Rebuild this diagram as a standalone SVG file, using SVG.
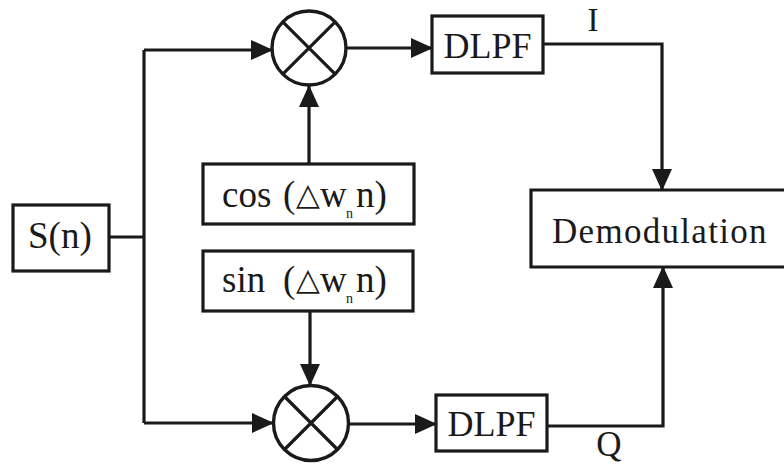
<svg xmlns="http://www.w3.org/2000/svg" width="784" height="464" viewBox="0 0 784 464">
  <style>
    .box { fill: #ffffff; stroke: #1a1a1a; stroke-width: 3.2; }
    .mix { fill: #ffffff; stroke: #1a1a1a; stroke-width: 3.4; }
    .wire { fill: none; stroke: #1a1a1a; stroke-width: 3.2; }
    .lbl { font-family: "Liberation Serif", "Tinos", "Times New Roman", "DejaVu Serif", serif; fill: #1a1a1a; }
    .tri { font-family: "DejaVu Sans", sans-serif; }
  </style>
  <defs>
    <marker id="arrow" markerUnits="userSpaceOnUse" markerWidth="22" markerHeight="20" refX="21" refY="10" orient="auto">
      <path d="M0,0 L22,10 L0,20 z" fill="#1a1a1a"/>
    </marker>
  </defs>

  <rect width="784" height="464" fill="#ffffff"/>

  <!-- signal connections -->
  <g id="connectors">
    <polyline class="wire" points="109,237 144,237"/>
    <polyline class="wire" points="144,423 144,50"/>
    <polyline class="wire" points="144,50 272,50" marker-end="url(#arrow)"/>
    <polyline class="wire" points="144,423 273,423" marker-end="url(#arrow)"/>
    <polyline class="wire" points="309,164 309,86" marker-end="url(#arrow)"/>
    <polyline class="wire" points="310,311 310,385" marker-end="url(#arrow)"/>
    <polyline class="wire" points="347,48 432,48" marker-end="url(#arrow)"/>
    <polyline class="wire" points="349,424 436,424" marker-end="url(#arrow)"/>
    <polyline class="wire" points="543,44 662,44 662,190" marker-end="url(#arrow)"/>
    <polyline class="wire" points="547,426 663,426 663,267" marker-end="url(#arrow)"/>
  </g>

  <g id="input">
    <rect class="box" x="13" y="205" width="96" height="66"/>
    <text class="lbl" x="28" y="248" font-size="37">S(n)</text>
  </g>

  <g id="mixer-i">
    <circle class="mix" cx="309" cy="48" r="37"/>
    <path class="wire" d="M282.8,21.8 L335.2,74.2 M335.2,21.8 L282.8,74.2"/>
  </g>

  <g id="mixer-q">
    <circle class="mix" cx="311" cy="423" r="37.5"/>
    <path class="wire" d="M284.5,396.5 L337.5,449.5 M337.5,396.5 L284.5,449.5"/>
  </g>

  <g id="osc-cos">
    <rect class="box" x="203" y="164" width="211" height="60"/>
    <text class="lbl" font-size="37" y="207"><tspan x="222">cos</tspan><tspan x="283">(</tspan><tspan class="tri" x="296" y="205" font-size="31">△</tspan><tspan x="320" y="207">w</tspan><tspan x="346" y="218" font-size="14">n</tspan><tspan x="356" y="207">n)</tspan></text>
  </g>

  <g id="osc-sin">
    <rect class="box" x="203" y="251" width="210" height="60"/>
    <text class="lbl" font-size="37" y="292"><tspan x="222">sin</tspan><tspan x="283">(</tspan><tspan class="tri" x="296" y="290" font-size="31">△</tspan><tspan x="320" y="292">w</tspan><tspan x="346" y="303" font-size="14">n</tspan><tspan x="356" y="292">n)</tspan></text>
  </g>

  <g id="lpf-i">
    <rect class="box" x="432" y="16" width="111" height="57"/>
    <text class="lbl" x="487.5" y="58" font-size="36" text-anchor="middle">DLPF</text>
  </g>

  <g id="lpf-q">
    <rect class="box" x="436" y="395" width="111" height="56"/>
    <text class="lbl" x="491.5" y="436" font-size="36" text-anchor="middle">DLPF</text>
  </g>

  <g id="demod">
    <path class="box" d="M790,190 L531,190 L531,267 L790,267"/>
    <text class="lbl" x="552" y="243" font-size="35" letter-spacing="1.3">Demodulation</text>
  </g>

  <g id="labels">
    <text class="lbl" x="593" y="31" font-size="33" text-anchor="middle">I</text>
    <text class="lbl" x="609" y="456" font-size="35" text-anchor="middle">Q</text>
  </g>
</svg>
